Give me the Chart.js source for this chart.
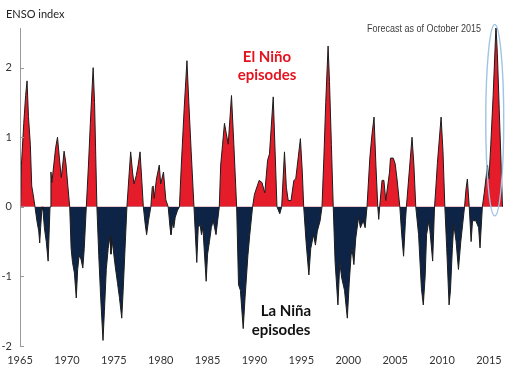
<!DOCTYPE html>
<html><head><meta charset="utf-8">
<script src="https://cdn.jsdelivr.net/npm/chart.js@4"></script>
<style>html,body{margin:0;padding:0;background:#fff}#w{width:520px;height:377px;position:relative}</style>
</head><body><div id="w"><canvas id="c" width="520" height="377"></canvas></div>
<script>
// Time (decimal year) of each reading
const years = [
1965.0,1965.15,1965.4,1965.6,1965.75,1965.9,1966.1,1966.25,1966.4,1966.6,
1966.8,1967.0,1967.1,1967.2,1967.35,1967.45,1967.6,1967.8,1968.0,1968.1,1968.2,
1968.3,1968.4,1968.6,1968.8,1969.0,1969.2,1969.4,1969.55,1969.7,1969.9,1970.1,1970.3,
1970.45,1970.6,1970.8,1971.0,1971.15,1971.3,1971.5,1971.7,1971.85,1972.07,
1972.3,1972.5,1972.8,1972.95,1973.1,1973.2,
1973.4,1973.6,1973.85,1974.0,1974.2,1974.4,1974.6,1974.7,1974.85,1975.1,1975.4,1975.6,1975.85,1976.0,1976.2,1976.4,
1976.6,1976.8,1977.0,1977.15,1977.4,1977.6,1977.8,1978.0,1978.15,
1978.35,1978.5,1978.7,1978.95,
1979.1,1979.2,1979.3,1979.55,1979.85,1980.0,1980.3,1980.55,1980.8,
1981.0,1981.1,1981.3,1981.4,1981.55,1981.8,1982.0,
1982.2,1982.5,1982.8,1983.0,1983.25,1983.55,
1983.7,1983.85,1984.0,1984.2,1984.35,1984.5,1984.85,1985.0,1985.2,1985.4,1985.6,1985.9,1986.25,
1986.4,1986.6,1986.8,1987.0,1987.2,1987.55,1987.8,1988.1,
1988.3,1988.5,1988.8,1989.0,1989.3,1989.5,1989.8,
1990.0,1990.3,1990.5,1990.8,1991.1,1991.4,1991.6,1992.0,1992.2,1992.4,1992.7,1992.9,
1993.2,1993.4,1993.6,1993.9,1994.2,1994.4,1994.9,1995.1,1995.25,
1995.5,1995.8,1996.0,1996.3,1996.5,1996.7,1997.0,1997.2,
1997.4,1997.6,1997.85,1998.0,1998.2,1998.4,
1998.6,1998.9,1999.1,1999.3,1999.6,1999.9,2000.1,2000.3,2000.4,2000.6,2000.8,2001.1,2001.3,2001.6,2001.8,2002.0,
2002.3,2002.5,2002.75,2002.95,2003.15,2003.25,2003.35,
2003.6,2003.8,2004.0,2004.4,2004.5,2004.8,2005.0,2005.2,2005.5,
2005.7,2005.9,2006.1,2006.2,2006.5,2006.8,2007.0,2007.2,
2007.5,2007.8,2008.0,2008.2,2008.35,2008.6,2008.75,2009.0,2009.2,
2009.4,2009.5,2009.9,2010.1,2010.3,
2010.5,2010.75,2010.9,2011.1,2011.25,2011.5,2011.75,2012.0,2012.4,
2012.55,2012.7,2012.9,2013.1,2013.25,2013.6,2013.9,2014.05,2014.3,
2014.5,2014.85,2015.0,2015.2,2015.45,2015.75,2015.9,2016.1,2016.3,2016.45
];
// ENSO index readings
const ensoIndex = [
-0.4,0.6,1.2,1.6,1.81,1.3,0.9,0.3,0.18,0.0,
-0.2,-0.35,-0.52,-0.3,0.0,-0.05,-0.3,-0.5,-0.78,-0.4,0.0,
0.5,0.35,0.6,0.85,1.0,0.7,0.42,0.6,0.8,0.62,0.3,0.0,
-0.6,-0.8,-0.95,-1.31,-0.9,-0.7,-0.75,-0.88,-0.6,0.0,
0.6,1.2,2.0,1.5,0.6,0.0,
-0.7,-1.3,-1.92,-1.5,-0.9,-0.6,-0.42,-0.68,-0.5,-0.8,-1.1,-1.3,-1.6,-1.2,-0.6,0.0,
0.4,0.79,0.5,0.33,0.45,0.6,0.79,0.35,0.0,
-0.25,-0.4,-0.2,0.0,
0.28,0.3,0.12,0.4,0.6,0.33,0.5,0.1,0.0,
-0.3,-0.4,-0.2,-0.3,-0.15,-0.05,0.0,
0.6,1.4,2.1,1.5,0.8,0.0,
-0.4,-0.8,-0.3,-0.25,-0.4,-0.3,-1.07,-0.68,-0.5,-0.3,-0.2,-0.4,0.0,
0.6,0.9,1.2,1.05,0.9,1.6,0.9,0.0,
-1.12,-1.2,-1.75,-1.3,-0.7,-0.4,0.0,
0.18,0.3,0.38,0.35,0.2,0.67,0.76,1.58,0.8,0.0,-0.1,0.0,
0.79,0.28,0.09,0.09,0.38,0.4,0.98,0.5,0.0,
-0.5,-0.98,-0.6,-0.4,-0.55,-0.35,-0.2,0.0,
0.7,1.5,2.31,1.8,0.9,0.0,
-0.8,-1.41,-0.8,-1.02,-1.2,-1.6,-1.1,-0.7,-0.6,-0.83,-0.45,-0.15,-0.3,-0.2,-0.3,0.0,
0.7,1.0,1.29,0.6,0.0,-0.18,0.0,
0.38,0.38,0.09,0.5,0.7,0.7,0.62,0.4,0.0,
-0.4,-0.71,-0.2,0.0,0.5,1.0,0.6,0.0,
-0.4,-1.17,-1.41,-1.0,-0.4,-0.2,-0.4,-0.78,0.0,
0.4,0.62,1.29,0.8,0.0,
-0.6,-1.41,-1.2,-0.6,-0.25,-0.5,-0.9,-0.5,0.0,
0.25,0.4,0.0,-0.5,-0.2,-0.2,-0.3,-0.59,0.0,
0.2,0.6,0.4,0.9,1.6,2.6,2.2,1.4,0.6,0.0
];
const xTicks = [1965,1970,1975,1980,1985,1990,1995,2000,2005,2010,2015];
const yTicks = [-2,-1,0,1,2];

const points = years.map((x,i)=>({x:x,y:ensoIndex[i]}));

const overlay = {
  id:'overlay',
  afterDatasetsDraw(chart){
    const ctx = chart.ctx, y = chart.scales.y, x = chart.scales.x;
    const ax = chart.chartArea.left;
    ctx.save();
    ctx.strokeStyle = '#9a9a9a'; ctx.lineWidth = 1;
    ctx.beginPath();
    ctx.moveTo(ax+0.5, chart.chartArea.top); ctx.lineTo(ax+0.5, y.getPixelForValue(-2));
    yTicks.forEach(v=>{ const py = Math.round(y.getPixelForValue(v))+0.5; ctx.moveTo(ax, py); ctx.lineTo(ax+4, py); });
    ctx.stroke();
    ctx.strokeStyle = '#9fc4e4'; ctx.lineWidth = 1.4;
    ctx.beginPath();
    const cx = x.getPixelForValue(2015.62), top = y.getPixelForValue(2.62), bot = y.getPixelForValue(-0.13);
    ctx.ellipse(cx, (top+bot)/2, 9, (bot-top)/2, 0, 0, Math.PI*2);
    ctx.stroke();
    ctx.textBaseline = 'middle';
    ctx.fillStyle = '#222'; ctx.textAlign = 'left';
    ctx.font = '11px Lato';
    ctx.fillText('ENSO index', 6, 14);
    ctx.fillStyle = '#404040';
    ctx.font = '10px "Liberation Sans"';
    ctx.save(); ctx.translate(367,29); ctx.scale(0.9,1); ctx.fillText('Forecast as of October 2015', 0, 0); ctx.restore();
    ctx.textAlign = 'center';
    ctx.fillStyle = '#e3141f';
    ctx.font = 'bold 15px Lato';
    ctx.fillText('El Niño', 267, 57);
    ctx.fillText('episodes', 267, 75);
    ctx.fillStyle = '#111';
    ctx.fillText('La Niña', 286, 311);
    ctx.fillText('episodes', 281, 330);
    ctx.restore();
  }
};

new Chart(document.getElementById('c'), {
  type:'line',
  data:{ datasets:[{
    data: points,
    borderColor:'#1c1c1c', borderWidth:1, pointRadius:0, tension:0,
    fill:{ target:{value:0}, above:'#e51c2a', below:'#0e2447' }
  }]},
  options:{
    responsive:false, animation:false, devicePixelRatio:1,
    layout:{ padding:{ top:28, right:17, left:0, bottom:0 } },
    plugins:{ legend:{display:false}, tooltip:{enabled:false} },
    scales:{
      x:{ type:'linear', min:1965, max:2016.5,
          grid:{display:false}, border:{display:false},
          afterBuildTicks(s){ s.ticks = xTicks.map(v=>({value:v})); },
          afterFit(s){ s.height = 31; },
          ticks:{ color:'#333', font:{family:'Lato', size:11}, padding:0, maxRotation:0, autoSkip:false, callback:v=>String(v) } },
      y:{ min:-2, max:2.57,
          grid:{display:false}, border:{display:false},
          afterBuildTicks(s){ s.ticks = yTicks.map(v=>({value:v})); },
          afterFit(s){ s.width = 20; },
          ticks:{ color:'#333', font:{family:'Lato', size:11}, padding:0, callback:v=>String(v) } }
    }
  },
  plugins:[overlay]
});
</script></body></html>
